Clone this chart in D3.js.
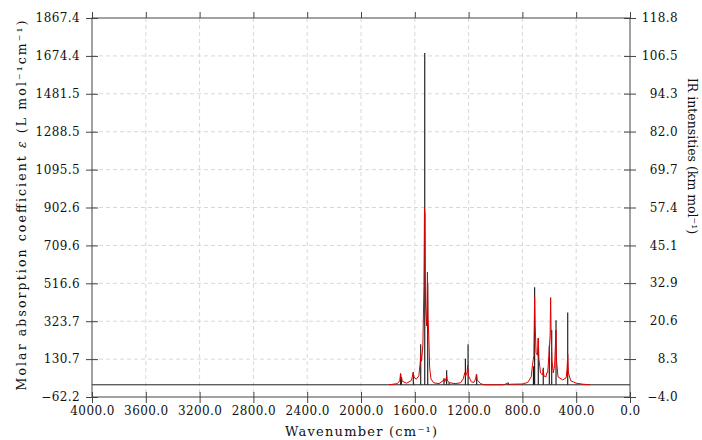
<!DOCTYPE html>
<html>
<head>
<meta charset="utf-8">
<style>
  body { margin: 0; background: #fff; }
  text { font-family: "DejaVu Serif", "Liberation Serif", serif; fill: #111; }
  .grid line { stroke: #d8d8d8; stroke-dasharray: 4,3; }
</style>
</head>
<body>
<svg width="702" height="440"></svg>
<script src="https://d3js.org/d3.v7.min.js"></script>
<script>

// tick labels as printed on the chart
var xTicks = [4000, 3600, 3200, 2800, 2400, 2000, 1600, 1200, 800, 400, 0];
var leftTicks = [-62.2, 130.7, 323.7, 516.6, 709.6, 902.6, 1095.5, 1288.5, 1481.5, 1674.4, 1867.4];
var rightTicks = [-4.0, 8.3, 20.6, 32.9, 45.1, 57.4, 69.7, 82.0, 94.3, 106.5, 118.8];

// stick spectrum: wavenumber (cm-1) and IR intensity (km/mol)
var stickWave = [1705, 1700, 1611, 1556, 1526, 1504, 1383, 1363, 1345, 1224, 1204, 1140,
                 905, 718, 709, 682, 645, 600, 582, 550, 463];
var stickInt  = [3.3, 2.4, 4.1, 13.1, 107.5, 32.8, 2.1, 4.7, 0.8, 8.4, 13.1, 3.3,
                 0.6, 6.0, 31.6, 15.0, 5.5, 12.8, 17.7, 20.9, 23.4];

// broadened spectrum: wavenumber and epsilon
var curveWave = [1790, 1730, 1712, 1706, 1702, 1698, 1694, 1660, 1625, 1612, 1606, 1590,
                 1570, 1560, 1556, 1550, 1540, 1532, 1528, 1524, 1520, 1512, 1506, 1502,
                 1496, 1490, 1480, 1460, 1420, 1390, 1384, 1378, 1368, 1363, 1358, 1340,
                 1300, 1260, 1240, 1228, 1222, 1212, 1207, 1200, 1180, 1160, 1148, 1142,
                 1136, 1110, 1080, 950, 930, 906, 900, 880, 800, 760, 735, 725, 715, 709,
                 705, 698, 688, 682, 677, 665, 650, 645, 640, 625, 618, 612, 603, 594,
                 590, 586, 580, 570, 560, 551, 546, 535, 500, 475, 468, 463, 458, 440,
                 400, 350, 297];
var curveEps  = [0, 6, 20, 58, 30, 40, 18, 8, 22, 62, 40, 28,
                 45, 110, 160, 120, 200, 500, 897, 870, 400, 300, 574, 345,
                 250, 90, 30, 10, 6, 20, 30, 15, 30, 48, 20, 10,
                 6, 10, 30, 62, 45, 60, 100, 45, 15, 12, 30, 53,
                 25, 5, 0, 0, 2, 10, 2, 3, 4, 12, 40, 100, 150, 447,
                 300, 165, 150, 237, 130, 60, 50, 78, 45, 40, 62, 60, 150, 250,
                 444, 235, 120, 60, 100, 278, 120, 40, 25, 35, 80, 155, 60, 20,
                 8, 3, 0];

var svg = d3.select("svg");
var pLeft = 92, pRight = 630, pTop = 18, pBottom = 397;

var x = d3.scaleLinear().domain([4000, 0]).range([pLeft, pRight]);
var yL = d3.scaleLinear().domain([-62.2, 1867.4]).range([pBottom, pTop]);
var yR = d3.scaleLinear().domain([-4.0, 118.8]).range([pBottom, pTop]);

// dashed grid
var grid = svg.append("g").attr("class", "grid");
grid.selectAll(".gx")
  .data(xTicks.slice(1, -1))
  .enter().append("line")
    .attr("x1", function(d) { return x(d); })
    .attr("x2", function(d) { return x(d); })
    .attr("y1", pTop).attr("y2", pBottom);
grid.selectAll(".gy")
  .data(leftTicks.slice(1, -1))
  .enter().append("line")
    .attr("x1", pLeft).attr("x2", pRight)
    .attr("y1", function(d) { return yL(d); })
    .attr("y2", function(d) { return yL(d); });

// zero line
svg.append("line")
    .attr("x1", pLeft).attr("x2", pRight)
    .attr("y1", yL(0)).attr("y2", yL(0))
    .attr("stroke", "#222").attr("stroke-width", 1);

// sticks
svg.append("g").selectAll("line")
  .data(d3.range(stickWave.length))
  .enter().append("line")
    .attr("x1", function(i) { return x(stickWave[i]); })
    .attr("x2", function(i) { return x(stickWave[i]); })
    .attr("y1", yR(0))
    .attr("y2", function(i) { return yR(stickInt[i]); })
    .attr("stroke", "#111")
    .attr("stroke-width", 1.1);

// broadened curve
var line = d3.line()
    .x(function(i) { return x(curveWave[i]); })
    .y(function(i) { return yL(curveEps[i]); });

svg.append("path")
    .datum(d3.range(curveWave.length))
    .attr("d", line)
    .attr("fill", "none")
    .attr("stroke", "#e00000")
    .attr("stroke-width", 1)
    .attr("stroke-linejoin", "round");

// frame
svg.append("rect")
    .attr("x", pLeft).attr("y", pTop)
    .attr("width", pRight - pLeft).attr("height", pBottom - pTop)
    .attr("fill", "none").attr("stroke", "#444").attr("stroke-width", 1);

// axes
var fmt = function(d) { return d.toFixed(1).replace("-", "\u2212"); };

var axB = svg.append("g")
    .attr("transform", "translate(0," + pBottom + ")")
    .call(d3.axisBottom(x).tickValues(xTicks).tickSize(6).tickFormat(fmt));
var axT = svg.append("g")
    .attr("transform", "translate(0," + pTop + ")")
    .call(d3.axisTop(x).tickValues(xTicks).tickSize(6).tickFormat(""));
var axL = svg.append("g")
    .attr("transform", "translate(" + pLeft + ",0)")
    .call(d3.axisLeft(yL).tickValues(leftTicks).tickSize(6).tickFormat(fmt));
var axR = svg.append("g")
    .attr("transform", "translate(" + pRight + ",0)")
    .call(d3.axisRight(yR).tickValues(rightTicks).tickSize(6).tickFormat(fmt));

[axB, axT, axL, axR].forEach(function(a) {
  a.select(".domain").remove();
  a.selectAll(".tick line").attr("stroke", "#444");
  a.selectAll("text").attr("font-size", 12).attr("fill", "#111")
    .attr("letter-spacing", 0.4)
    .style("font-family", "'DejaVu Serif', serif");
});
// ticks cross the frame
axB.selectAll(".tick line").attr("y1", -5);
axL.selectAll(".tick line").attr("x1", 6);
axR.selectAll(".tick line").attr("x1", -6);
axL.selectAll("text").attr("x", -12);
axR.selectAll("text").attr("x", 48).attr("text-anchor", "end");
axB.selectAll("text").attr("y", 9);

// titles
svg.append("text")
    .attr("x", (pLeft + pRight) / 2).attr("y", 436)
    .attr("text-anchor", "middle")
    .attr("font-size", 13)
    .attr("textLength", 152)
    .attr("lengthAdjust", "spacing")
    .text("Wavenumber (cm\u207B\u00B9)");

var tl = svg.append("text")
    .attr("transform", "translate(26," + ((pTop + pBottom) / 2 - 2) + ") rotate(-90)")
    .attr("text-anchor", "middle")
    .attr("font-size", 12.5)
    .attr("textLength", 370)
    .attr("lengthAdjust", "spacing");
tl.append("tspan").text("Molar absorption coefficient  ");
tl.append("tspan").attr("font-style", "italic").text("\u03B5");
tl.append("tspan").text(" (L mol\u207B\u00B9cm\u207B\u00B9)");

svg.append("text")
    .attr("transform", "translate(688,156) rotate(90)")
    .attr("text-anchor", "middle")
    .attr("font-size", 12.5)
    .text("IR intensities (km mol\u207B\u00B9)");

</script>
</body>
</html>
